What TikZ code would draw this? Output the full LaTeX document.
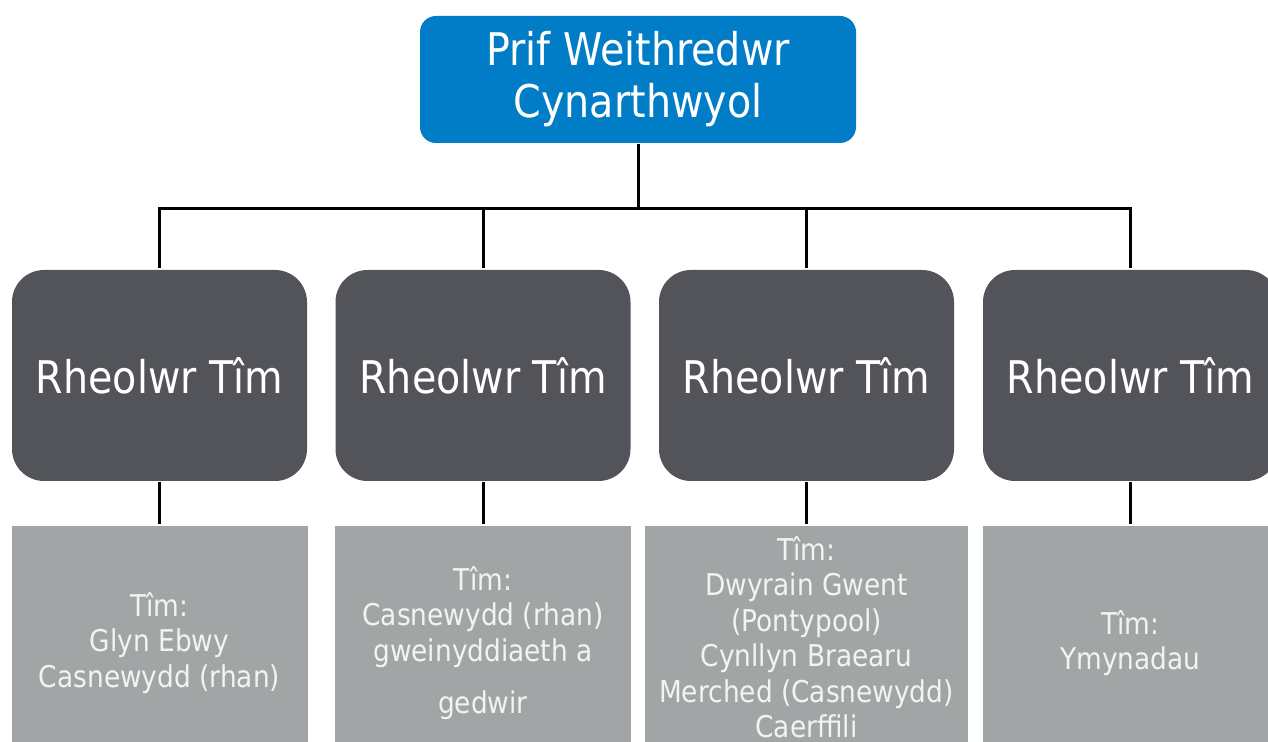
\documentclass[tikz,border=0pt]{standalone}
\usepackage{fontspec}
\setmainfont{DejaVu Sans}[FakeStretch=0.88]
\usetikzlibrary{positioning}
\definecolor{chiefblue}{RGB}{0,125,198}
\definecolor{mgrgrey}{RGB}{83,84,89}
\definecolor{teamgrey}{RGB}{162,165,166}
\definecolor{teamtext}{RGB}{243,243,243}
\tikzset{
  chief/.style={fill=chiefblue, text=white, rounded corners=8pt,
    minimum width=218pt, minimum height=63.5pt},
  manager/.style={fill=mgrgrey, text=white, rounded corners=16pt,
    minimum width=147.5pt, minimum height=105.5pt},
  team/.style={fill=teamgrey, text=teamtext, minimum width=148pt,
    minimum height=117pt, font=\fontsize{15}{17.75}\selectfont},
}
\begin{document}
\begin{tikzpicture}[x=0.5pt, y=-0.5pt, line width=1.5pt,
    every node/.style={align=center, inner sep=0pt, font=\fontsize{22.5}{26}\selectfont}]
      \useasboundingbox (0,0) rectangle (1268,742);
      \node [chief] (chief) at (638,79.5) {Prif Weithredwr\\Cynarthwyol};
      \node [manager] (m1) at (159.5,375.5) {Rheolwr Tîm};
      \node [manager] (m2) at (483,375.5) {Rheolwr Tîm};
      \node [manager] (m3) at (806.5,375.5) {Rheolwr Tîm};
      \node [manager] (m4) at (1130.5,375.5) {Rheolwr Tîm};
      \node [team, below=21pt of m1] (t1) {Tîm:\\Glyn Ebwy\\Casnewydd (rhan)};
      \node [team, below=21pt of m2] (t2) {Tîm:\\Casnewydd (rhan)\\gweinyddiaeth a\\[8.5pt]gedwir};
      \node [team, below=21pt of m3, minimum width=161.5pt, minimum height=111pt] (t3) {Tîm:\\Dwyrain Gwent\\(Pontypool)\\Cynllyn Braearu\\Merched (Casnewydd)\\Caerffili};
      \node [team, below=21pt of m4] (t4) {Tîm:\\Ymynadau};
      \foreach \m in {m1,m2,m3,m4}
        \draw (chief.south) -- ++(0,64) -| (\m.north);
      \foreach \m/\t in {m1/t1,m2/t2,m3/t3,m4/t4}
        \draw (\m.south) -- (\t.north);
    \end{tikzpicture}
\end{document}
